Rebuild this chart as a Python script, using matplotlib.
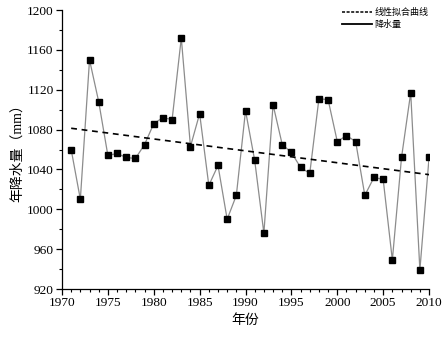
import numpy as np
import matplotlib
matplotlib.use('Agg')
import matplotlib.pyplot as plt
from matplotlib.ticker import MultipleLocator

plt.rcParams['font.family'] = ['Liberation Serif', 'Noto Sans CJK SC']

years = list(range(1971, 2011))
rain = [1060, 1010, 1150, 1108, 1054, 1056, 1052, 1051, 1065, 1086,
        1092, 1090, 1172, 1063, 1096, 1024, 1044, 990, 1014, 1099,
        1049, 976, 1105, 1065, 1057, 1042, 1036, 1111, 1110, 1068,
        1074, 1068, 1014, 1032, 1030, 949, 1052, 1117, 939, 1052]

x = np.array(years)
y = np.array(rain)
k, b = np.polyfit(x, y, 1)  # linear fit

fig = plt.figure(figsize=(4.46, 3.37), dpi=100)
ax = fig.add_axes([0.139, 0.1424, 0.823, 0.8279])

ax.plot(x, y, color='#8c8c8c', lw=0.9, zorder=2)
ax.plot(x, y, 's', color='black', ms=4.6, zorder=3)
ax.plot(x, k * x + b, '--', color='black', lw=1.2, dashes=(3.5, 2.8), zorder=2)

ax.set_xlim(1970, 2010)
ax.set_ylim(920, 1200)
ax.xaxis.set_major_locator(MultipleLocator(5))
ax.xaxis.set_minor_locator(MultipleLocator(1))
ax.yaxis.set_major_locator(MultipleLocator(40))
ax.yaxis.set_minor_locator(MultipleLocator(20))
ax.tick_params(which='major', direction='out', length=4, width=0.9, labelsize=9.6, pad=2)
ax.tick_params(which='minor', direction='out', length=2.5, width=0.8)
for s in ['top', 'right']:
    ax.spines[s].set_visible(False)
for s in ['left', 'bottom']:
    ax.spines[s].set_linewidth(0.9)

ax.set_xlabel('年份', fontsize=10, labelpad=3)
ax.set_ylabel('年降水量（mm）', fontsize=10, labelpad=2)

h1, = ax.plot([], [], '--', color='black', lw=1.1, dashes=(2, 1))
h2, = ax.plot([], [], '-', color='black', lw=1.3)
leg = ax.legend([h1, h2], ['线性拟合曲线', '降水量'], loc='upper right',
                bbox_to_anchor=(1.02, 1.035), frameon=False, fontsize=6.5,
                handlelength=3.3, handletextpad=0.3, labelspacing=0.3)

fig.savefig('out.png', dpi=100)
